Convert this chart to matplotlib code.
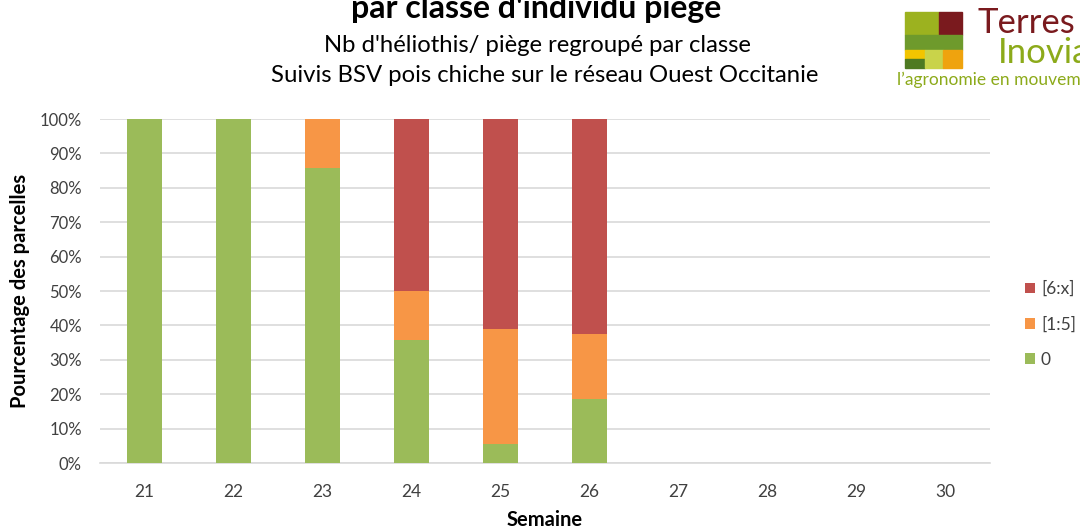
import matplotlib
matplotlib.use("Agg")
import matplotlib.pyplot as plt
from matplotlib.patches import Rectangle
import numpy as np

plt.rcParams['font.family'] = ['Lato', 'DejaVu Sans']

weeks = ['21', '22', '23', '24', '25', '26', '27', '28', '29', '30']
cls_0 = [100, 100, 85.7, 35.7, 5.6, 18.75, 0, 0, 0, 0]
cls_1_5 = [0, 0, 14.3, 14.3, 33.3, 18.75, 0, 0, 0, 0]
cls_6_x = [0, 0, 0, 50.0, 61.1, 62.5, 0, 0, 0, 0]
series_names = ['0', '[1:5]', '[6:x]']
colors = ['#9BBB59', '#F79646', '#C0504D']

fig = plt.figure(figsize=(10.8, 5.3), dpi=100)
ax = fig.add_axes([100/1080, 1-463/530, 890/1080, 344/530])

x = np.arange(len(weeks))
bottom = np.zeros(len(weeks))
handles = []
for vals, name, c in zip([cls_0, cls_1_5, cls_6_x], series_names, colors):
    h = ax.bar(x, vals, 0.4, bottom=bottom, color=c, label=name, zorder=3)
    handles.append(h)
    bottom += np.array(vals)

ax.set_xlim(-0.5, len(weeks) - 0.5)
ax.set_ylim(0, 100)
ax.set_yticks(np.arange(0, 101, 10))
ax.set_yticklabels([f'{v}%' for v in range(0, 101, 10)])
ax.set_xticks(x)
ax.set_xticklabels(weeks)
ax.tick_params(axis='y', length=0, labelsize=12, colors='#404040', pad=13)
ax.tick_params(axis='x', length=0, labelsize=12.5, colors='#404040', pad=15)
ax.grid(axis='y', color='#D9D9D9', linewidth=1.2, zorder=0)
for s in ['top', 'right', 'left']:
    ax.spines[s].set_visible(False)
ax.spines['bottom'].set_color('#D9D9D9')
ax.spines['bottom'].set_linewidth(1.2)
ax.set_ylabel('Pourcentage des parcelles', fontsize=14.5, fontweight='bold', color='black', va='center')
ax.yaxis.set_label_coords((20-100)/890, 0.5)
ax.set_xlabel('Semaine', fontsize=14.5, fontweight='bold', color='black', va='center')
ax.xaxis.set_label_coords(0.5, (463-520)/344)

leg = fig.legend(handles[::-1], series_names[::-1], loc='upper left',
                 bbox_to_anchor=(1025/1080, 1-281/530), frameon=False,
                 fontsize=12.5, handlelength=0.57, handleheight=0.57,
                 labelspacing=1.1, handletextpad=0.35, borderpad=0, borderaxespad=0)
for t in leg.get_texts():
    t.set_color('#404040')

fig.text(536/1080, 1-18/530, "par classe d'individu piégé", ha='center', va='baseline',
         fontsize=23, fontweight='bold')
fig.text(537/1080, 1-45/530, "Nb d'héliothis/ piège regroupé par classe", ha='center', va='center',
         fontsize=17.2)
fig.text(545/1080, 1-76/530, "Suivis BSV pois chiche sur le réseau Ouest Occitanie", ha='center', va='center',
         fontsize=17.2)

# logo
lax = fig.add_axes([0, 0, 1, 1], zorder=-1)
lax.set_xlim(0, 1080)
lax.set_ylim(530, 0)
lax.axis('off')
blocks = [
    (905, 12, 34, 23, '#9CB21F'),
    (939, 12, 23, 23, '#7A1A1E'),
    (905, 35, 57, 15, '#6E9A2C'),
    (905, 50, 20, 9, '#F2C500'),
    (905, 59, 20, 9, '#4E7A22'),
    (925, 50, 18, 18, '#C9D34A'),
    (943, 50, 19, 18, '#EFA30E'),
]
for bx, by, bw, bh, bc in blocks:
    lax.add_patch(Rectangle((bx, by), bw, bh, color=bc))
lax.text(977, 33, 'Terres', fontsize=25, color='#7A1A1E', va='baseline', ha='left')
lax.text(998, 63, 'Inovia', fontsize=25, color='#8CAA1A', va='baseline', ha='left')
lax.text(897, 80, "l\u2019agronomie en mouvement", fontsize=12.5, color='#8CAA1A', va='center',
         ha='left')

fig.savefig('out.png', dpi=100)
